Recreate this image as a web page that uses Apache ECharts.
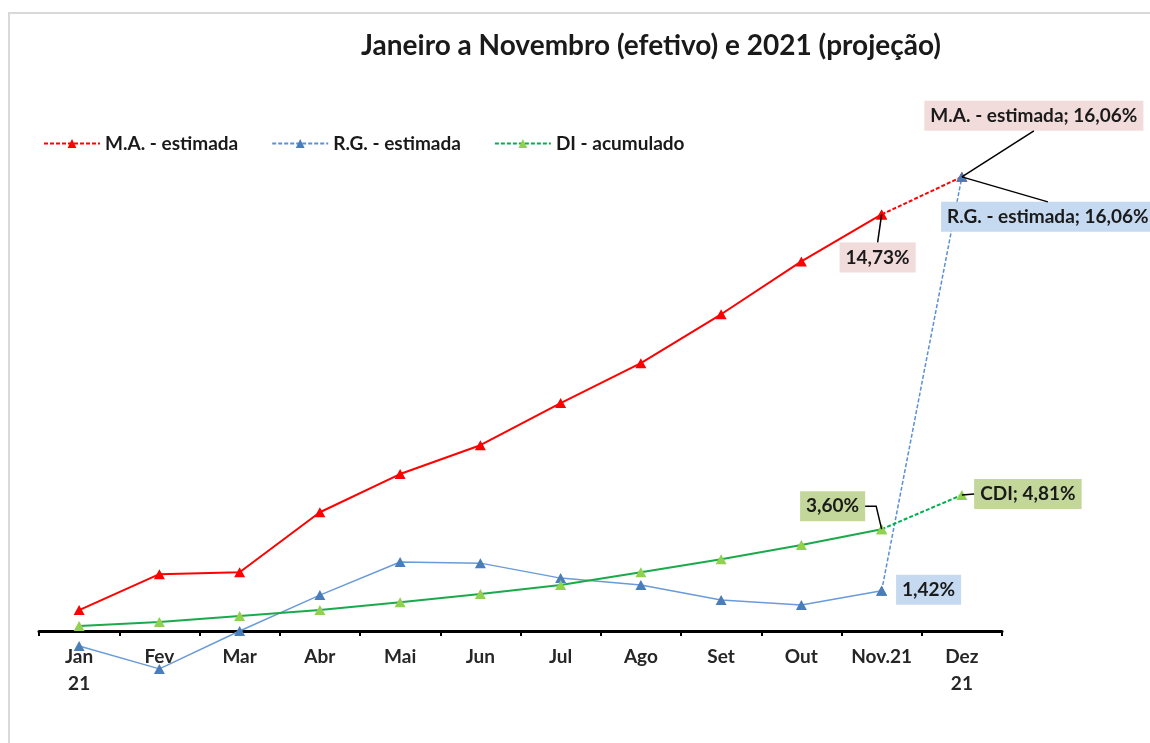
<!DOCTYPE html>
<html>
<head>
<meta charset="utf-8">
<script src="https://cdn.jsdelivr.net/npm/echarts@6/dist/echarts.min.js"></script>
<style>
  html, body { margin: 0; padding: 0; background: #fff; overflow: hidden; }
  #frame { position: absolute; left: 8px; top: 12px; width: 1200px; height: 800px; border: 2px solid #d9d9d9; }
  #chart { position: absolute; left: 0; top: 0; width: 1150px; height: 743px; }
</style>
</head>
<body>
<div id="frame"></div>
<div id="chart"></div>
<script>
// categorias (meses)
const months = ['Jan\n21', 'Fev', 'Mar', 'Abr', 'Mai', 'Jun', 'Jul', 'Ago', 'Set', 'Out', 'Nov.21', 'Dez\n21'];
// valores efetivos Jan..Nov (%)
const maValues = [0.74, 2.01, 2.08, 4.20, 5.55, 6.57, 8.06, 9.47, 11.20, 13.07, 14.73];
const rgValues = [-0.53, -1.34, 0.00, 1.27, 2.44, 2.40, 1.87, 1.63, 1.10, 0.92, 1.42];
const diValues = [0.18, 0.32, 0.53, 0.74, 1.02, 1.31, 1.63, 2.08, 2.54, 3.04, 3.60];
// projeção Dez 21 (%)
const maDez = 16.06;
const rgDez = 16.06;
const diDez = 4.81;

const legendNames = ['M.A. - estimada', 'R.G. - estimada', 'DI - acumulado'];

const FONT = 'Lato, "Liberation Sans", sans-serif';

function pct(v) { return v.toFixed(2).replace('.', ',') + '%'; }

// label boxes: background, offset of label centre from its point, side the leader line attaches to
const boxes = {
    ma: { bg: '#F2DCDB', dx: -4, dy: 43, side: 'top' },
    rg: { bg: '#C5D9F1', dx: 47, dy: -1 },
    di: { bg: '#C4D79B', dx: -49, dy: -23, side: 'right' },
    maP: { bg: '#F2DCDB', dx: 72, dy: -61, side: 'bottom', text: 'M.A. - estimada; ' },
    rgP: { bg: '#C5D9F1', dx: 86, dy: 40, side: 'top', text: 'R.G. - estimada; ' },
    diP: { bg: '#C4D79B', dx: 66, dy: -1, side: 'left', text: 'CDI; ' }
};

// series order -> box key
const keyBySeries = ['maP', 'rgP', 'diP', 'ma', 'rg', 'di'];
// leader lines, filled in by the label layout pass
const leaders = {};

function labelled(value, key) {
    const b = boxes[key];
    return {
        value: value,
        label: {
            show: true,
            position: 'inside',
            formatter: (b.text || '') + pct(value),
            backgroundColor: b.bg,
            color: '#1a1a1a',
            fontFamily: FONT,
            fontWeight: 'bold',
            fontSize: 19,
            padding: [6, 6, 5, 6]
        }
    };
}

function solidData(values, key) {
    return values.map((v, i) => i === values.length - 1 ? labelled(v, key) : v);
}

function projData(last, dez, key) {
    const d = months.map(() => '-');
    d[months.length - 2] = last;
    d[months.length - 1] = labelled(dez, key);
    return d;
}

function lineSeries(name, values, key, color, markerColor, width) {
    return {
        name: name,
        type: 'line',
        data: solidData(values, key),
        symbol: 'triangle',
        symbolSize: [11, 10],
        clip: false,
        itemStyle: { color: markerColor },
        lineStyle: { color: color, width: width },
        z: 3
    };
}

function projSeries(name, last, dez, key, color, markerColor, width) {
    return {
        name: name,
        type: 'line',
        data: projData(last, dez, key),
        symbol: 'triangle',
        symbolSize: [11, 10],
        clip: false,
        itemStyle: { color: markerColor },
        lineStyle: { color: color, width: width, type: [4, 2] },
        z: 2
    };
}

// moves the label; remembers an Excel-like leader line to the middle of one side
function layoutLabel(params) {
    const key = keyBySeries[params.seriesIndex];
    const b = boxes[key];
    if (!b) return {};
    const r = params.rect, l = params.labelRect;
    const px = r.x + r.width / 2, py = r.y + r.height / 2;
    const x = l.x + b.dx, y = l.y + b.dy, w = l.width, h = l.height;
    const cx = x + w / 2, cy = y + h / 2;
    let pts = null;
    if (b.side === 'top') pts = [[px, py], [cx, y]];
    else if (b.side === 'bottom') pts = [[px, py], [cx, y + h]];
    else if (b.side === 'left') pts = [[px, py], [x, cy]];
    else if (b.side === 'right') pts = [[px, py], [x + w + 11, cy], [x + w, cy]];
    if (pts) leaders[key] = pts;
    return { dx: b.dx, dy: b.dy };
}

const chart = echarts.init(document.getElementById('chart'));

const option = {
    animation: false,
    title: {
        text: 'Janeiro a Novembro (efetivo) e 2021 (projeção)',
        left: 646,
        top: 27,
        textAlign: 'center',
        textStyle: { fontFamily: FONT, fontWeight: 'bold', fontSize: 28, color: '#1a1a1a' }
    },
    legend: {
        data: legendNames,
        left: 38,
        top: 129,
        itemWidth: 56,
        itemHeight: 11,
        itemGap: 33,
        textStyle: { fontFamily: FONT, fontWeight: 'bold', fontSize: 19, color: '#1a1a1a' }
    },
    grid: { left: 39, right: 148, top: 122, bottom: 112, outerBoundsMode: 'none' },
    xAxis: {
        type: 'category',
        data: months,
        boundaryGap: true,
        axisLine: { lineStyle: { color: '#000', width: 3 } },
        axisTick: { show: true, length: 5, lineStyle: { color: '#000', width: 2 } },
        axisLabel: {
            interval: 0,
            margin: 12,
            fontFamily: FONT,
            fontWeight: 'bold',
            fontSize: 19,
            lineHeight: 27,
            color: '#262626'
        },
        splitLine: { show: false }
    },
    yAxis: {
        type: 'value',
        min: 0,
        max: 18,
        show: false,
        splitLine: { show: false }
    },
    labelLayout: layoutLabel,
    series: [
        // order must follow keyBySeries
        projSeries('M.A. - estimada', maValues[10], maDez, 'maP', '#FF0000', '#FF0000', 2),
        projSeries('R.G. - estimada', rgValues[10], rgDez, 'rgP', '#5B8FD6', '#4A7EBB', 1.5),
        projSeries('DI - acumulado', diValues[10], diDez, 'diP', '#00B050', '#92D050', 2),
        lineSeries('M.A.', maValues, 'ma', '#FF0000', '#FF0000', 2),
        lineSeries('R.G.', rgValues, 'rg', '#6A9BD8', '#4A7EBB', 1.5),
        lineSeries('DI', diValues, 'di', '#1AAA4B', '#92D050', 2)
    ]
};

chart.setOption(option);

// leader lines from the positions the layout pass produced
chart.setOption({
    graphic: Object.keys(leaders).map(k => ({
        type: 'polyline',
        silent: true,
        z: 50,
        shape: { points: leaders[k] },
        style: { stroke: '#000', lineWidth: 1.5, fill: null }
    }))
});
</script>
</body>
</html>
